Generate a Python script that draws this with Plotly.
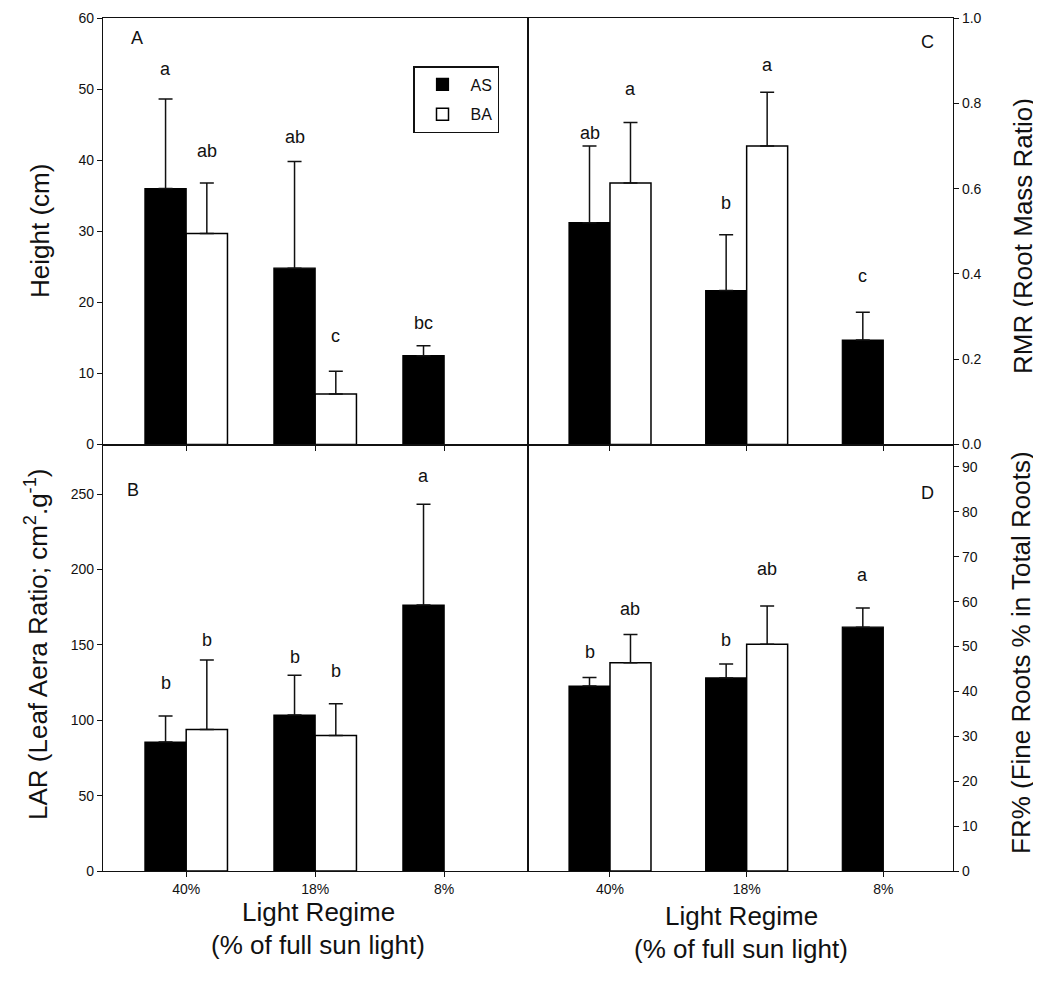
import plotly.graph_objects as go

# ---------------- data ----------------
categories = ["40%", "18%", "8%"]

height_as = [36.0, 24.8, 12.5]
height_as_err = [12.6, 15.0, 1.4]
height_ba = [29.7, 7.1, None]
height_ba_err = [7.1, 3.2, None]
height_as_letters = ["a", "ab", "bc"]
height_as_letter_y = [52.8, 43.2, 17.1]
height_ba_letters = ["ab", "c", ""]
height_ba_letter_y = [41.3, 15.2, None]

rmr_as = [0.52, 0.361, 0.245]
rmr_as_err = [0.18, 0.131, 0.065]
rmr_ba = [0.613, 0.70, None]
rmr_ba_err = [0.142, 0.126, None]
rmr_as_letters = ["ab", "b", "c"]
rmr_as_letter_y = [0.73, 0.566, 0.395]
rmr_ba_letters = ["a", "a", ""]
rmr_ba_letter_y = [0.834, 0.89, None]

lar_as = [85.6, 103.5, 176.5]
lar_as_err = [17.2, 26.4, 66.8]
lar_ba = [93.9, 89.9, None]
lar_ba_err = [46.1, 21.1, None]
lar_as_letters = ["b", "b", "a"]
lar_as_letter_y = [125, 142, 262]
lar_ba_letters = ["b", "b", ""]
lar_ba_letter_y = [153, 133, None]

fr_as = [41.2, 43.0, 54.3]
fr_as_err = [1.9, 3.1, 4.3]
fr_ba = [46.4, 50.5, None]
fr_ba_err = [6.3, 8.5, None]
fr_as_letters = ["b", "b", "a"]
fr_as_letter_y = [48.8, 51.5, 65.9]
fr_ba_letters = ["ab", "ab", ""]
fr_ba_letter_y = [58.3, 67.2, None]

series_names = ["AS", "BA"]
# --------------------------------------

FONT = "Liberation Sans, Arial, sans-serif"
INK = "#111111"

fig = go.Figure()

panels = [
    ("x", "y", height_as, height_as_err, height_ba, height_ba_err,
     height_as_letters, height_as_letter_y, height_ba_letters, height_ba_letter_y, 0.32, True),
    ("x2", "y2", rmr_as, rmr_as_err, rmr_ba, rmr_ba_err,
     rmr_as_letters, rmr_as_letter_y, rmr_ba_letters, rmr_ba_letter_y, 0.30, False),
    ("x3", "y3", lar_as, lar_as_err, lar_ba, lar_ba_err,
     lar_as_letters, lar_as_letter_y, lar_ba_letters, lar_ba_letter_y, 0.32, False),
    ("x4", "y4", fr_as, fr_as_err, fr_ba, fr_ba_err,
     fr_as_letters, fr_as_letter_y, fr_ba_letters, fr_ba_letter_y, 0.30, False),
]

letter_font = dict(size=18, color=INK, family=FONT)
annotations = []
for (xa, ya, v_as, e_as, v_ba, e_ba, l_as, ly_as, l_ba, ly_ba, w, show) in panels:
    zero_as = [0 if e is not None else None for e in e_as]
    zero_ba = [0 if e is not None else None for e in e_ba]
    fig.add_trace(go.Bar(
        x=categories, y=v_as, name=series_names[0], xaxis=xa, yaxis=ya,
        width=w, offset=-w, showlegend=show, legendgroup="AS",
        marker=dict(color="#000000", line=dict(color="#000000", width=1.2)),
        error_y=dict(type="data", array=e_as, arrayminus=zero_as, symmetric=False,
                     color=INK, thickness=1.5, width=7),
    ))
    fig.add_trace(go.Bar(
        x=categories, y=v_ba, name=series_names[1], xaxis=xa, yaxis=ya,
        width=w, offset=0, showlegend=show, legendgroup="BA",
        marker=dict(color="#ffffff", line=dict(color="#000000", width=1.5)),
        error_y=dict(type="data", array=e_ba, arrayminus=zero_ba, symmetric=False,
                     color=INK, thickness=1.5, width=7),
    ))
    for i in range(len(categories)):
        if l_as[i]:
            annotations.append(dict(x=i - w / 2, y=ly_as[i], xref=xa, yref=ya, text=l_as[i],
                                    xanchor="center", yanchor="middle",
                                    showarrow=False, font=letter_font))
        if l_ba[i]:
            annotations.append(dict(x=i + w / 2, y=ly_ba[i], xref=xa, yref=ya, text=l_ba[i],
                                    xanchor="center", yanchor="middle",
                                    showarrow=False, font=letter_font))

# The page puts the figure 8 px in from the top-left corner of the window.
OFF = 8
W, H = 1031, 975
PLOT_L, PLOT_R, PLOT_T, PLOT_B = 103, 953, 18, 871   # target window pixels
L = PLOT_L - OFF
T = PLOT_T - OFF
R = W - (PLOT_R - OFF)
B = H - (PLOT_B - OFF)
PW, PH = PLOT_R - PLOT_L, PLOT_B - PLOT_T


def px(xp):
    return (xp - PLOT_L) / PW


def py(yp):
    return (PLOT_B - yp) / PH


def ann(text, xx, yy, font, angle=0):
    return dict(x=px(xx), y=py(yy), xref="paper", yref="paper", text=text,
                xanchor="center", yanchor="middle", textangle=angle,
                showarrow=False, font=font)


panel_font = dict(size=18, color=INK, family=FONT)
for txt, xx, yy in [("A", 137, 38), ("C", 927, 42), ("B", 133, 490), ("D", 927, 493)]:
    annotations.append(ann(txt, xx, yy, panel_font))

title_font = dict(size=26, color=INK, family=FONT)
annotations += [
    ann("Height (cm)", 40, 231, title_font, -90),
    ann("LAR (Leaf Aera Ratio; cm<sup>2</sup>.g<sup>-1</sup>)", 36, 645, title_font, -90),
    ann("RMR (Root Mass Ratio)", 1023, 236, title_font, -90),
    ann("FR% (Fine Roots % in Total Roots)", 1021, 653, title_font, -90),
    ann("Light Regime", 318, 912, title_font),
    ann("(% of full sun light)", 318, 945, title_font),
    ann("Light Regime", 741, 916, title_font),
    ann("(% of full sun light)", 741, 949, title_font),
]

axis_common = dict(showline=True, linecolor=INK, linewidth=1.3, mirror=True,
                   ticks="outside", ticklen=5, tickwidth=1.2, tickcolor=INK,
                   showgrid=False, zeroline=False, automargin=False,
                   tickfont=dict(size=14, color=INK, family=FONT))

xcommon = dict(axis_common, type="category", categoryorder="array", categoryarray=categories)
xcommon["tickfont"] = dict(size=14, color=INK, family=FONT)

fig.update_layout(
    width=W, height=H,
    margin=dict(l=L, r=R, t=T, b=B, pad=0, autoexpand=False),
    paper_bgcolor="white", plot_bgcolor="white",
    barmode="overlay",
    showlegend=True,
    legend=dict(x=px(413), y=py(66), xanchor="left", yanchor="top",
                bordercolor=INK, borderwidth=1.5, bgcolor="white",
                font=dict(size=16, color=INK, family=FONT),
                itemwidth=46, tracegroupgap=6),
    xaxis=dict(xcommon, domain=[0, 0.5], anchor="y", range=[-0.645, 2.65], showticklabels=False),
    xaxis2=dict(xcommon, domain=[0.5, 1], anchor="y2", range=[-0.6, 2.51], showticklabels=False),
    xaxis3=dict(xcommon, domain=[0, 0.5], anchor="y3", range=[-0.645, 2.65]),
    xaxis4=dict(xcommon, domain=[0.5, 1], anchor="y4", range=[-0.6, 2.51]),
    yaxis=dict(axis_common, domain=[0.5, 1], anchor="x", range=[0, 60], dtick=10),
    yaxis2=dict(axis_common, domain=[0.5, 1], anchor="x2", side="right",
                range=[0, 1.0], dtick=0.2, tickformat=".1f"),
    yaxis3=dict(axis_common, domain=[0, 0.5], anchor="x3", range=[0, 283], dtick=50),
    yaxis4=dict(axis_common, domain=[0, 0.5], anchor="x4", side="right",
                range=[0, 95], dtick=10),
    annotations=annotations,
    font=dict(family=FONT, color=INK),
)

fig.write_html("out.html")
